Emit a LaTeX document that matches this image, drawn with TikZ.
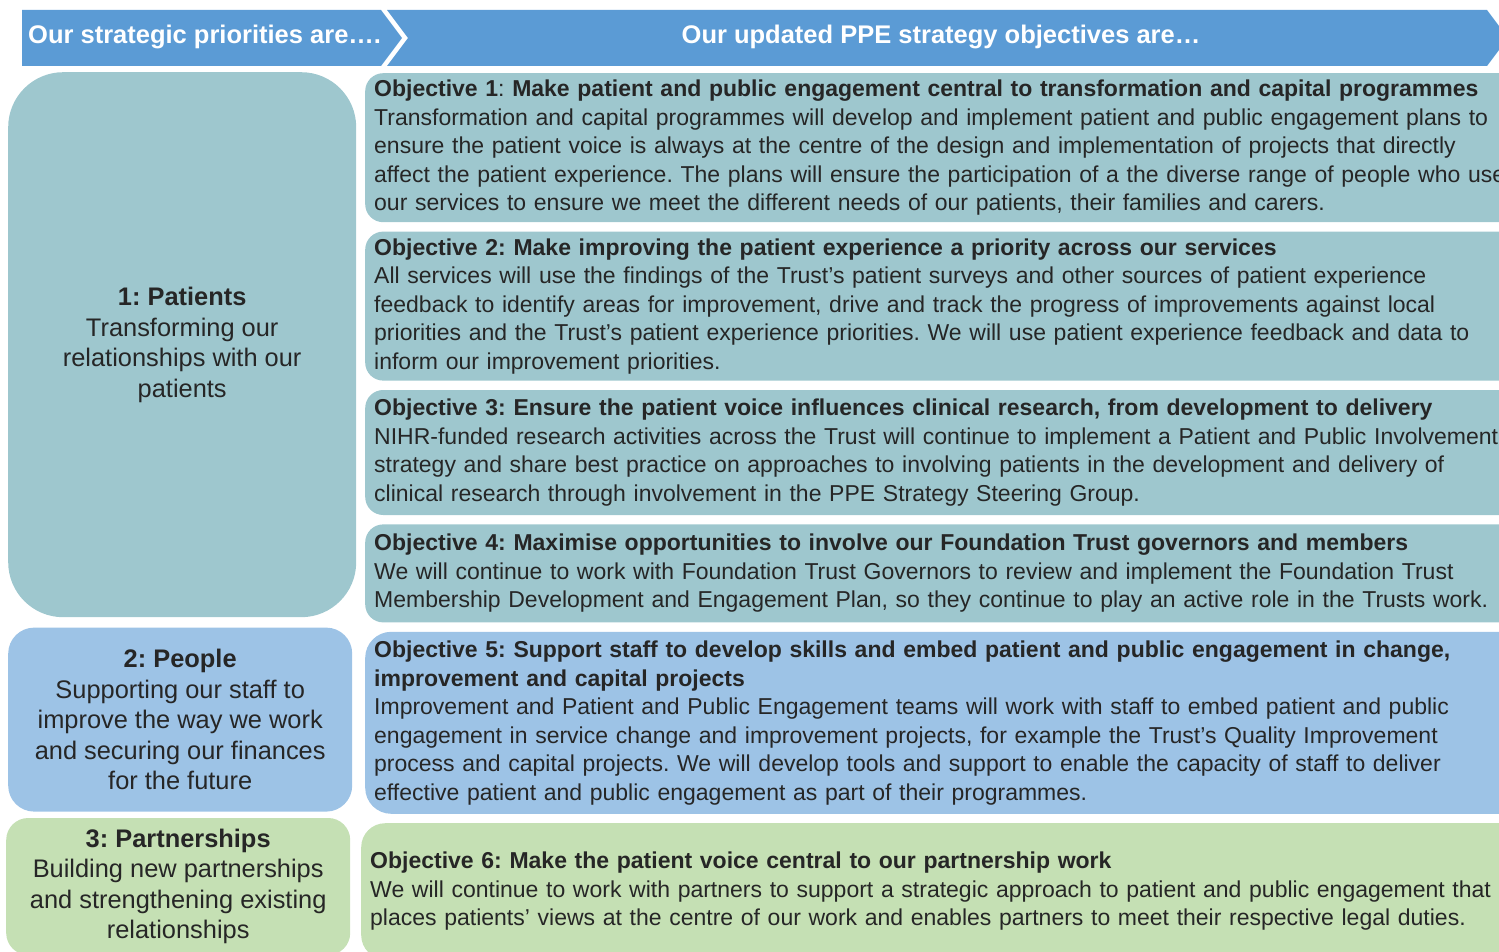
\documentclass[tikz,border=0pt]{standalone}
\usepackage{fontspec}
\setmainfont{Liberation Sans}
\usepackage{xcolor}
\usetikzlibrary{positioning}

\definecolor{hdblue}{HTML}{5B9BD5}
\definecolor{patteal}{HTML}{9EC7CE}
\definecolor{peoblue}{HTML}{9DC3E6}
\definecolor{pargreen}{HTML}{C5E0B4}
\definecolor{bodytext}{HTML}{262626}

\newcommand{\objfont}{\fontsize{23}{28.5}\selectfont}
\newcommand{\priofont}{\fontsize{25.4}{30.5}\selectfont}
\frenchspacing

\begin{document}
\begin{tikzpicture}[
    x=1pt, y=-1pt,
    node distance=9pt,
    prio/.style={
        rectangle,
        align=center,
        minimum width=346pt,
        inner sep=0pt,
        text=bodytext,
        font=\priofont
    },
    obj/.style={
        rectangle,
        rounded corners=18pt,
        fill=patteal,
        align=left,
        text width=1200pt,
        inner xsep=9pt,
        inner ysep=0pt,
        text=bodytext,
        font=\objfont
    },
    hdtext/.style={
        text=white,
        inner sep=0pt,
        font=\fontsize{25.5}{28}\selectfont\bfseries
    }
]
\useasboundingbox (0,0) rectangle (1499,952);

% ---------------- HEADER ----------------
\fill[hdblue] (22,10) -- (381,10) -- (402,38) -- (381,66) -- (22,66) -- cycle;
\fill[hdblue] (387,10) -- (1487,10) -- (1508,38) -- (1487,66) -- (387,66) -- (408,38) -- cycle;
\node[hdtext, anchor=west] (hdprio) at (28,37) {Our strategic priorities are….};
\node[hdtext] (hdobj) at (941,37) {Our updated PPE strategy objectives are…};

% ---------------- PRIORITIES ----------------
\node[prio, fill=patteal, rounded corners=55pt, minimum width=348pt, minimum height=545pt,
      anchor=north west] (pat) at (8,72) {
    \textbf{1: Patients}\\
    Transforming our\\
    relationships with our\\
    patients
};
\node[prio, fill=peoblue, rounded corners=26pt, minimum width=344pt, minimum height=184pt,
      below=10pt of pat, xshift=-2pt] (peo) {
    \textbf{2: People}\\
    Supporting our staff to\\
    improve the way we work\\
    and securing our finances\\
    for the future
};
\node[prio, fill=pargreen, rounded corners=22pt, minimum width=344pt, minimum height=137pt,
      below=6pt of peo, xshift=-2pt] (par) {
    \textbf{3: Partnerships}\\
    Building new partnerships\\
    and strengthening existing\\
    relationships
};

% ---------------- OBJECTIVES ----------------
\node[obj, minimum height=149pt, anchor=north west] (obj1) at (365,73) {
    \textbf{Objective 1}: \textbf{Make patient and public engagement central to transformation and capital programmes}\\
    Transformation and capital programmes will develop and implement patient and public engagement plans to\\
    ensure the patient voice is always at the centre of the design and implementation of projects that directly\\
    affect the patient experience. The plans will ensure the participation of a the diverse range of people who use\\
    our services to ensure we meet the different needs of our patients, their families and carers.
};
\node[obj, minimum height=149pt, below=of obj1] (obj2) {
    \textbf{Objective 2: Make improving the patient experience a priority across our services}\\
    All services will use the findings of the Trust’s patient surveys and other sources of patient experience\\
    feedback to identify areas for improvement, drive and track the progress of improvements against local\\
    priorities and the Trust’s patient experience priorities. We will use patient experience feedback and data to\\
    inform our improvement priorities.
};
\node[obj, minimum height=125pt, below=of obj2] (obj3) {
    \textbf{Objective 3: Ensure the patient voice influences clinical research, from development to delivery}\\
    NIHR-funded research activities across the Trust will continue to implement a Patient and Public Involvement\\
    strategy and share best practice on approaches to involving patients in the development and delivery of\\
    clinical research through involvement in the PPE Strategy Steering Group.
};
\node[obj, minimum height=98pt, below=of obj3] (obj4) {
    \textbf{Objective 4: Maximise opportunities to involve our Foundation Trust governors and members}\\
    We will continue to work with Foundation Trust Governors to review and implement the Foundation Trust\\
    Membership Development and Engagement Plan, so they continue to play an active role in the Trusts work.
};
\node[obj, fill=peoblue, rounded corners=26pt, minimum height=182pt, below=of obj4] (obj5) {
    \textbf{Objective 5: Support staff to develop skills and embed patient and public engagement in change,}\\
    \textbf{improvement and capital projects}\\
    Improvement and Patient and Public Engagement teams will work with staff to embed patient and public\\
    engagement in service change and improvement projects, for example the Trust’s Quality Improvement\\
    process and capital projects. We will develop tools and support to enable the capacity of staff to deliver\\
    effective patient and public engagement as part of their programmes.
};
\node[obj, fill=pargreen, rounded corners=24pt, minimum height=136pt, below=of obj5,
      xshift=-4pt] (obj6) {
    \textbf{Objective 6: Make the patient voice central to our partnership work}\\
    We will continue to work with partners to support a strategic approach to patient and public engagement that\\
    places patients’ views at the centre of our work and enables partners to meet their respective legal duties.
};

\end{tikzpicture}
\end{document}
